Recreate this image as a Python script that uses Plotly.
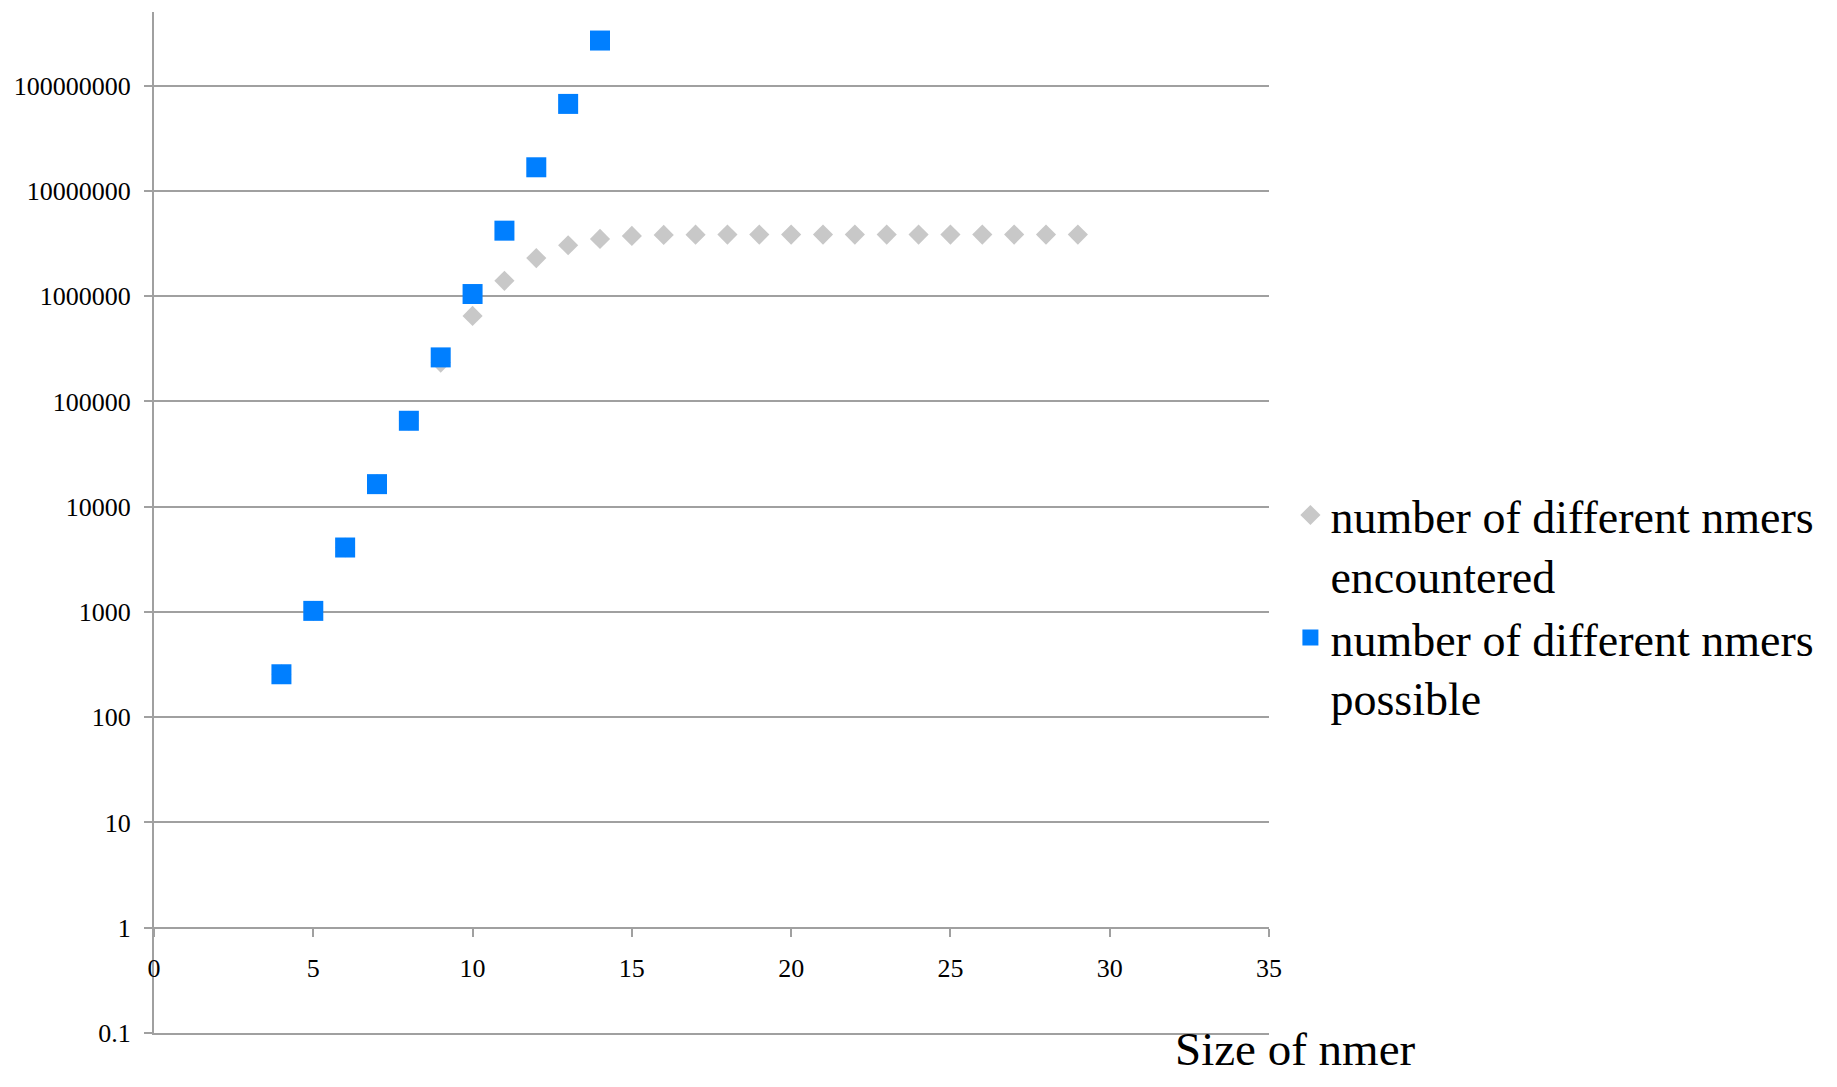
import plotly.graph_objects as go

# Data
nmer_size = list(range(4, 30))
encountered = [256, 1024, 4096, 16384, 65536, 234000, 650000, 1400000, 2300000,
               3050000, 3500000, 3740000, 3820000, 3840000, 3850000, 3850000,
               3850000, 3850000, 3850000, 3850000, 3850000, 3850000, 3850000,
               3850000, 3850000, 3850000]
possible_size = list(range(4, 15))
possible = [256, 1024, 4096, 16384, 65536, 262144, 1048576, 4194304,
            16777216, 67108864, 268435456]

y_tickvals = [0.1, 1, 10, 100, 1000, 10000, 100000, 1000000, 10000000, 100000000]
y_ticktext = ["0.1", "1", "10", "100", "1000", "10000", "100000", "1000000",
              "10000000", "100000000"]
x_tickvals = [0, 5, 10, 15, 20, 25, 30, 35]

FONT = "Liberation Serif, Times New Roman, serif"
GRID = "#a0a0a0"

fig = go.Figure()
fig.add_trace(go.Scatter(
    x=nmer_size, y=encountered, mode="markers",
    name="number of different nmers<br>encountered",
    marker=dict(symbol="diamond", size=15.5, color="#c8c8c8"),
))
fig.add_trace(go.Scatter(
    x=possible_size, y=possible, mode="markers", xaxis="x2",
    name="number of different nmers<br>possible",
    marker=dict(symbol="square", size=20, color="#007fff"),
))

ymin, ymax = -1.0, 8.70
fig.update_layout(
    width=1821, height=1071,
    margin=dict(l=146, r=560, t=4, b=46),
    paper_bgcolor="white", plot_bgcolor="white",
    font=dict(family=FONT, color="black"),
    showlegend=True,
    legend=dict(
        x=1.0192, xanchor="left", y=0.543, yanchor="top",
        font=dict(size=46, family=FONT, color="black"),
        valign="top", tracegroupgap=0,
        bgcolor="rgba(0,0,0,0)",
    ),
    xaxis=dict(
        range=[0, 35], tickvals=x_tickvals, showgrid=False, zeroline=False,
        showline=True, linecolor=GRID, linewidth=2,
        ticks="outside", ticklen=8, tickwidth=1.5, tickcolor=GRID,
        anchor="free", position=(0 - ymin) / (ymax - ymin),
        tickfont=dict(size=26, family=FONT, color="black"),
        ticklabelstandoff=9,
    ),
    xaxis2=dict(
        range=[0, 35], overlaying="x", anchor="y", side="bottom",
        showline=True, linecolor=GRID, linewidth=2,
        showgrid=False, zeroline=False, ticks="", showticklabels=False,
    ),
    yaxis=dict(
        type="log", range=[ymin, ymax], tickvals=y_tickvals, ticktext=y_ticktext,
        showgrid=True, gridcolor=GRID, gridwidth=2, zeroline=False,
        showline=True, linecolor=GRID, linewidth=2,
        ticks="outside", ticklen=8, tickwidth=2, tickcolor=GRID,
        tickfont=dict(size=26, family=FONT, color="black"),
        ticklabelstandoff=8,
    ),
    annotations=[dict(
        text="Size of nmer", xref="paper", yref="paper",
        x=1.0233, y=-0.016, xanchor="center", yanchor="middle",
        showarrow=False, font=dict(size=47, family=FONT, color="black"),
    )],
)

fig.write_html("out.html")
